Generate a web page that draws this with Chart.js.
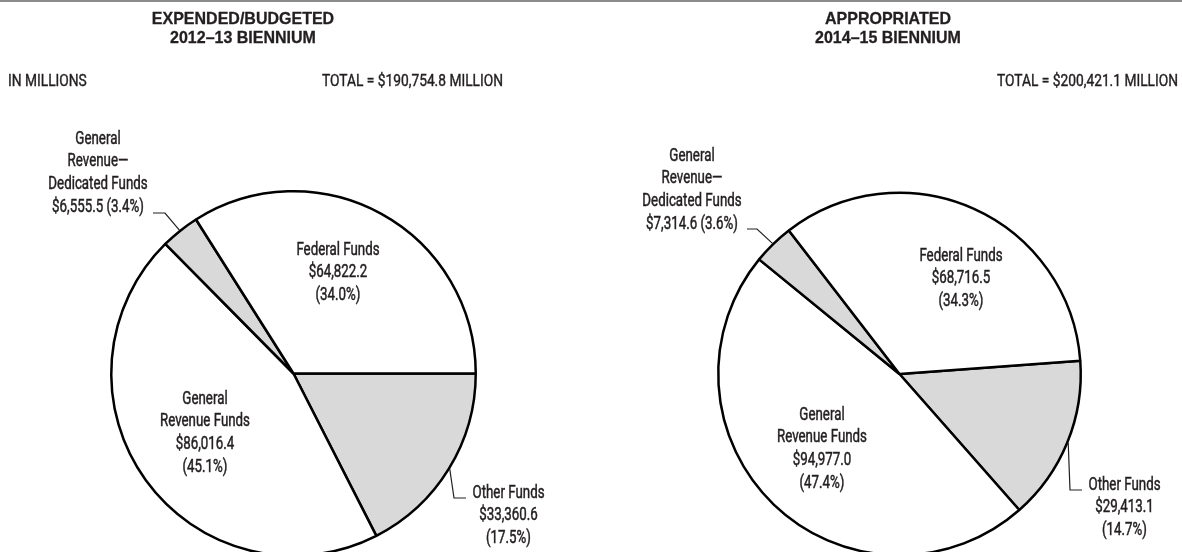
<!DOCTYPE html>
<html>
<head>
<meta charset="utf-8">
<script src="https://cdn.jsdelivr.net/npm/chart.js@4.4.1/dist/chart.umd.min.js"></script>
<style>
    html, body { margin: 0; padding: 0; background: #fff; }
    body { width: 1182px; height: 552px; overflow: hidden; position: relative; }
    .rule { position: absolute; left: 0; top: 0; width: 1182px; height: 2px; background: #8c8c8c; }
    .panel { position: absolute; top: 0; width: 591px; height: 600px; }
</style>
</head>
<body>
<div class="rule"></div>
<div class="panel" style="left:0"><canvas id="biennium-2012"></canvas></div>
<div class="panel" style="left:591px"><canvas id="biennium-2014"></canvas></div>
<script>
// Fund sources, in drawing order (clockwise from the start angle)
const categories = ['Other Funds', 'General Revenue Funds', 'General Revenue\u2014Dedicated Funds', 'Federal Funds'];
const nameLines = [['Other Funds'], ['General', 'Revenue Funds'], ['General', 'Revenue\u2014', 'Dedicated Funds'], ['Federal Funds']];

// Millions of dollars and share of total
const amounts2012 = [33360.6, 86016.4, 6555.5, 64822.2];
const shares2012 = [17.5, 45.1, 3.4, 34.0];
const total2012 = 190754.8;

const amounts2014 = [29413.1, 94977.0, 7314.6, 68716.5];
const shares2014 = [14.7, 47.4, 3.6, 34.3];
const total2014 = 200421.1;

const INK = '#231f20';
const sliceColors = ['#d9d9d9', '#ffffff', '#d9d9d9', '#ffffff'];
const labelFont = '18px Roboto, "Liberation Sans", sans-serif';
const noteFont = '16px Roboto, "Liberation Sans", sans-serif';
const titleFont = 'bold 16.5px "Liberation Sans", Arial, sans-serif';
const LINE = 22.7;

const money = v => '$' + v.toLocaleString('en-US', { minimumFractionDigits: 1, maximumFractionDigits: 1 });
const share = p => '(' + p.toFixed(1) + '%)';

// condensed text: squeezed horizontally, lightly stroked to thicken the strokes
function squeezeText(ctx, text, x, y, font, align, sx, heavy) {
    ctx.save();
    ctx.font = font;
    ctx.fillStyle = INK;
    ctx.strokeStyle = INK;
    ctx.lineWidth = heavy;
    ctx.textAlign = align;
    ctx.textBaseline = 'middle';
    ctx.translate(x, y);
    ctx.scale(sx, 1);
    ctx.fillText(text, 0, 0);
    if (heavy > 0) ctx.strokeText(text, 0, 0);
    ctx.restore();
}

function labelLines(i, amounts, shares) {
    const lines = nameLines[i].slice();
    if (i === 2) {
        lines.push(money(amounts[i]) + ' ' + share(shares[i]));
    } else {
        lines.push(money(amounts[i]), share(shares[i]));
    }
    return lines;
}

// Labels, leader lines and headings
const fundLabels = {
    id: 'fundLabels',
    afterDraw(chart, args, opts) {
        const ctx = chart.ctx;
        const arcs = chart.getDatasetMeta(0).data;
        const cx = arcs[0].x, cy = arcs[0].y;

        opts.spots.forEach((spot, i) => {
            const lines = labelLines(i, opts.amounts, opts.shares);
            lines.forEach((t, k) => {
                squeezeText(ctx, t, cx + spot.dx, cy + spot.dy + k * LINE, labelFont, 'center', 0.74, 0.5);
            });
            if (spot.leader) {
                const a = arcs[i];
                const mid = (a.startAngle + a.endAngle) / 2;
                const r = a.outerRadius + 1;
                ctx.save();
                ctx.strokeStyle = INK;
                ctx.lineWidth = 1.2;
                ctx.beginPath();
                ctx.moveTo(cx + Math.cos(mid) * r, cy + Math.sin(mid) * r);
                spot.leader.forEach(p => ctx.lineTo(cx + p[0], cy + p[1]));
                ctx.stroke();
                ctx.restore();
            }
        });

        opts.title.forEach((t, k) => {
            squeezeText(ctx, t, opts.titleX, 19 + k * 19, titleFont, 'center', 0.97, 0.3);
        });
        opts.notes.forEach(n => {
            squeezeText(ctx, n.text, n.x, 82, noteFont, n.align, 0.86, 0.4);
        });
    }
};

function makePie(id, amounts, shares, rotation, padding, extra) {
    return new Chart(document.getElementById(id), {
        type: 'pie',
        data: {
            labels: categories,
            datasets: [{
                data: amounts,
                backgroundColor: sliceColors,
                borderColor: '#000',
                borderWidth: 2.5
            }]
        },
        options: {
            responsive: true,
            maintainAspectRatio: false,
            animation: false,
            events: [],
            rotation: rotation,
            layout: { padding: padding },
            plugins: {
                legend: { display: false },
                tooltip: { enabled: false },
                fundLabels: Object.assign({ amounts: amounts, shares: shares }, extra)
            }
        },
        plugins: [fundLabels]
    });
}

makePie('biennium-2012', amounts2012, shares2012, 90,
    { left: 110, right: 114, top: 190, bottom: 43 },
    {
        spots: [
            { dx: 215, dy: 119.5, leader: [[160.5, 124.5], [172.5, 124.5]] },
            { dx: -88.5, dy: 25.5 },
            { dx: -195.5, dy: -234.5, leader: [[-128.5, -160.5], [-140.5, -160.5]] },
            { dx: 44.5, dy: -123.5 }
        ],
        title: ['EXPENDED/BUDGETED', '2012\u201313 BIENNIUM'],
        titleX: 243,
        notes: [
            { text: 'IN MILLIONS', x: 8, align: 'left' },
            { text: 'TOTAL = ' + money(total2012) + ' MILLION', x: 503, align: 'right' }
        ]
    });

makePie('biennium-2014', amounts2014, shares2014, 85.8,
    { left: 126, right: 100, top: 191.5, bottom: 43.5 },
    {
        spots: [
            { dx: 225, dy: 111, leader: [[170.5, 116], [182.5, 116]] },
            { dx: -77.5, dy: 41 },
            { dx: -207.5, dy: -218, leader: [[-142.5, -145], [-152.5, -145]] },
            { dx: 61.5, dy: -118 }
        ],
        title: ['APPROPRIATED', '2014\u201315 BIENNIUM'],
        titleX: 297,
        notes: [
            { text: 'TOTAL = ' + money(total2014) + ' MILLION', x: 587, align: 'right' }
        ]
    });
</script>
</body>
</html>
